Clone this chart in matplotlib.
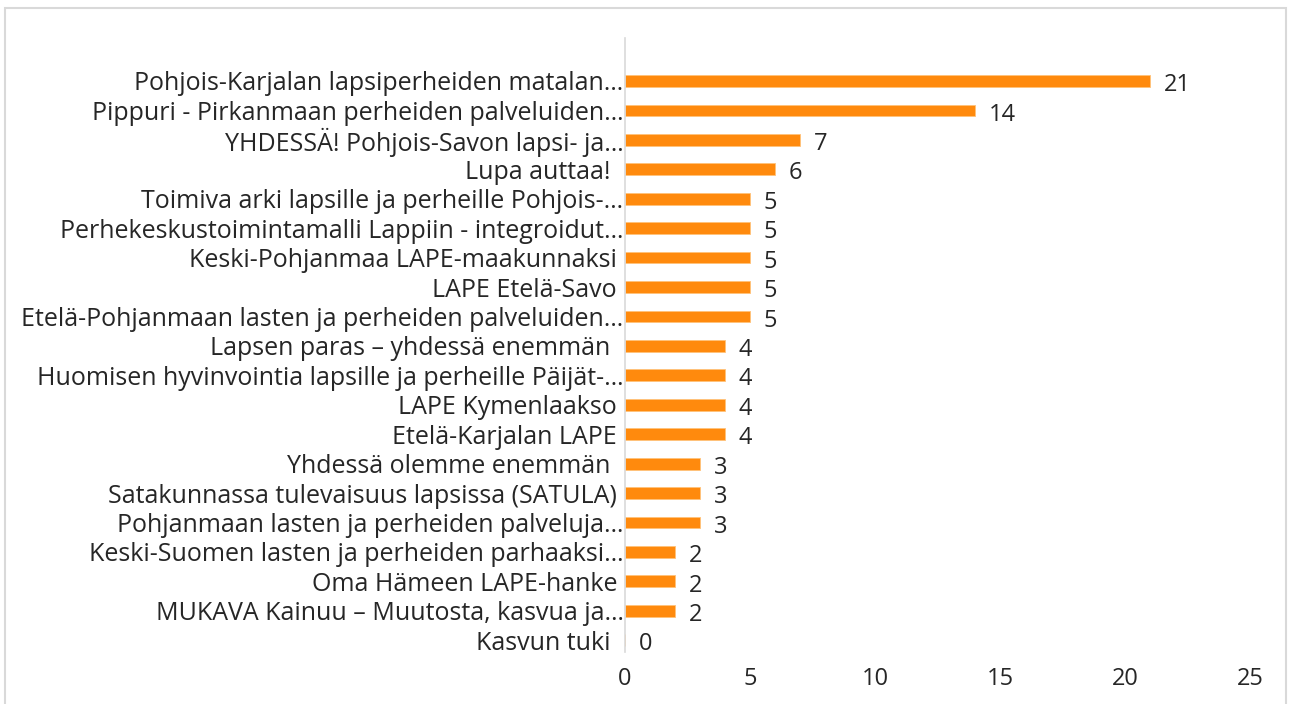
import matplotlib.pyplot as plt
from matplotlib.patches import Rectangle

plt.rcParams['font.family'] = ['Open Sans', 'DejaVu Sans']

labels = [
    "Pohjois-Karjalan lapsiperheiden matalan…",
    "Pippuri - Pirkanmaan perheiden palveluiden…",
    "YHDESSÄ! Pohjois-Savon lapsi- ja…",
    "Lupa auttaa!  ",
    "Toimiva arki lapsille ja perheille Pohjois-…",
    "Perhekeskustoimintamalli Lappiin - integroidut…",
    "Keski-Pohjanmaa LAPE-maakunnaksi ",
    "LAPE Etelä-Savo ",
    "Etelä-Pohjanmaan lasten ja perheiden palveluiden…",
    "Lapsen paras – yhdessä enemmän  ",
    "Huomisen hyvinvointia lapsille ja perheille Päijät-…",
    "LAPE Kymenlaakso ",
    "Etelä-Karjalan LAPE ",
    "Yhdessä olemme enemmän  ",
    "Satakunnassa tulevaisuus lapsissa (SATULA) ",
    "Pohjanmaan lasten ja perheiden palveluja…",
    "Keski-Suomen lasten ja perheiden parhaaksi…",
    "Oma Hämeen LAPE-hanke ",
    "MUKAVA Kainuu – Muutosta, kasvua ja…",
    "Kasvun tuki  ",
]
values = [21, 14, 7, 6, 5, 5, 5, 5, 5, 4, 4, 4, 4, 3, 3, 3, 2, 2, 2, 0]

text_color = '#262626'
bar_color = '#FF8A0D'
fs = 18

fig = plt.figure(figsize=(12.9, 7.04), dpi=100)
ax = fig.add_axes([625 / 1290, 1 - 652 / 704, 625 / 1290, 614 / 704])

n = len(values)
ypos = [n - 1 - i for i in range(n)]
ax.barh(ypos, values, height=0.40, color=bar_color, edgecolor='#FFC27A', linewidth=0.6)

for y, v in zip(ypos, values):
    ax.annotate(str(v), (v, y), xytext=(10, -3), textcoords='offset points',
                ha='left', va='center', fontsize=fs - 1, color=text_color)

ax.set_xlim(0, 25)
ax.set_ylim(-0.4, n - 1 + 1.46)
ax.set_xticks([0, 5, 10, 15, 20, 25])
ax.set_yticks(ypos)
ax.set_yticklabels(labels)
ax.tick_params(axis='both', length=0, labelsize=fs, labelcolor=text_color)
ax.tick_params(axis='x', labelsize=fs - 1, pad=11)
ax.tick_params(axis='y', pad=1)

for side in ['top', 'right', 'bottom']:
    ax.spines[side].set_visible(False)
ax.spines['left'].set_color('#D9D9D9')
ax.spines['left'].set_linewidth(1.2)

fig.patches.append(Rectangle((5 / 1290, -0.01), 1281 / 1290, 1 - 8 / 704 + 0.01,
                             transform=fig.transFigure, fill=False,
                             edgecolor='#D9D9D9', linewidth=1.5))

fig.savefig('out.png', dpi=100)
